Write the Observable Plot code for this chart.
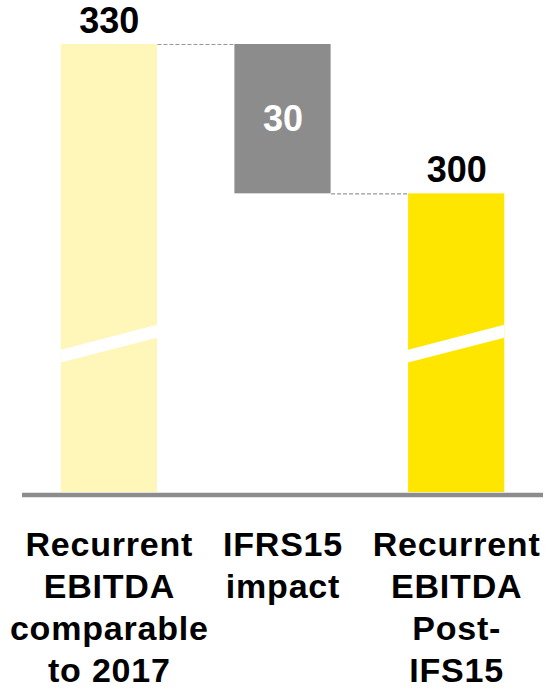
<!DOCTYPE html>
<html>
<head>
<meta charset="utf-8">
<script src="https://cdn.jsdelivr.net/npm/d3@7"></script>
<script src="https://cdn.jsdelivr.net/npm/@observablehq/plot@0.6"></script>
<style>
  html, body { margin: 0; padding: 0; background: #fff; }
  g[aria-label="x-axis tick label"] text { letter-spacing: 0.8px; }
</style>
</head>
<body>
<div id="chart"></div>
<script>
// ---- data ----
const categories = [
  "Recurrent\nEBITDA\ncomparable\nto 2017",
  "IFRS15\nimpact",
  "Recurrent\nEBITDA\nPost-\nIFS15"
];
const startValue = 330;
const impactValue = -30;
const endValue = 300;
const valueLabels = ["330", "30", "300"];
const barColors = ["#FFF6B9", "#8C8C8C", "#FFE600"];
const axisBase = 240;            // broken value axis starts here
const breakLeft = [266, 268.6];  // axis-break stripe (value range) at left bar edge
const breakRight = [271, 273.6]; // axis-break stripe (value range) at right bar edge

// ---- derived table ----
const half = 0.277;
const bars = [
  {i: 0, y1: axisBase, y2: startValue, color: barColors[0]},
  {i: 1, y1: startValue + impactValue, y2: startValue, color: barColors[1]},
  {i: 2, y1: axisBase, y2: endValue, color: barColors[2]}
];
const labels = [
  {i: 0, v: startValue, t: valueLabels[0]},
  {i: 2, v: endValue, t: valueLabels[2]}
];
const connectors = [
  {x1: 0 + half, x2: 1 - half, y: startValue},
  {x1: 1 + half, x2: 2 - half, y: startValue + impactValue}
];
const stripes = [];
for (const i of [0, 2]) {
  stripes.push({bar: i, x: i - half, y1: breakLeft[0], y2: breakLeft[1]});
  stripes.push({bar: i, x: i + half, y1: breakRight[0], y2: breakRight[1]});
}

const chart = Plot.plot({
  width: 551,
  height: 693,
  marginTop: 44,
  marginBottom: 201,
  marginLeft: 22,
  marginRight: 8,
  style: {fontFamily: "'Liberation Sans', Arial, sans-serif", background: "#fff"},
  x: {type: "linear", domain: [-0.5, 2.5], axis: null},
  y: {domain: [axisBase, 330], axis: null},
  marks: [
    Plot.rect(bars, {x1: d => d.i - half, x2: d => d.i + half, y1: "y1", y2: "y2", fill: "color"}),
    Plot.areaY(stripes, {x: "x", y1: "y1", y2: "y2", z: "bar", fill: "white", curve: "linear"}),
    Plot.link(connectors, {x1: "x1", x2: "x2", y1: "y", y2: "y", stroke: "#999999", strokeWidth: 1.2, strokeDasharray: "4,2"}),
    Plot.ruleY([axisBase], {stroke: "#8C8C8C", strokeWidth: 4.5, dy: 2.5}),
    Plot.text(labels, {x: "i", y: "v", text: "t", dy: -12, lineAnchor: "bottom", fontSize: 36, fontWeight: "bold", fill: "#000"}),
    Plot.text([bars[1]], {x: "i", y: d => (d.y1 + d.y2) / 2, text: () => valueLabels[1], lineAnchor: "middle", fontSize: 36, fontWeight: "bold", fill: "#fff"}),
    Plot.axisX({ticks: [0, 1, 2], tickFormat: i => categories[i], tickSize: 0, tickPadding: 34, fontSize: 34, fontWeight: "bold", lineHeight: 42 / 34, fill: "#000"})
  ]
});
document.getElementById("chart").appendChild(chart);
</script>
</body>
</html>
